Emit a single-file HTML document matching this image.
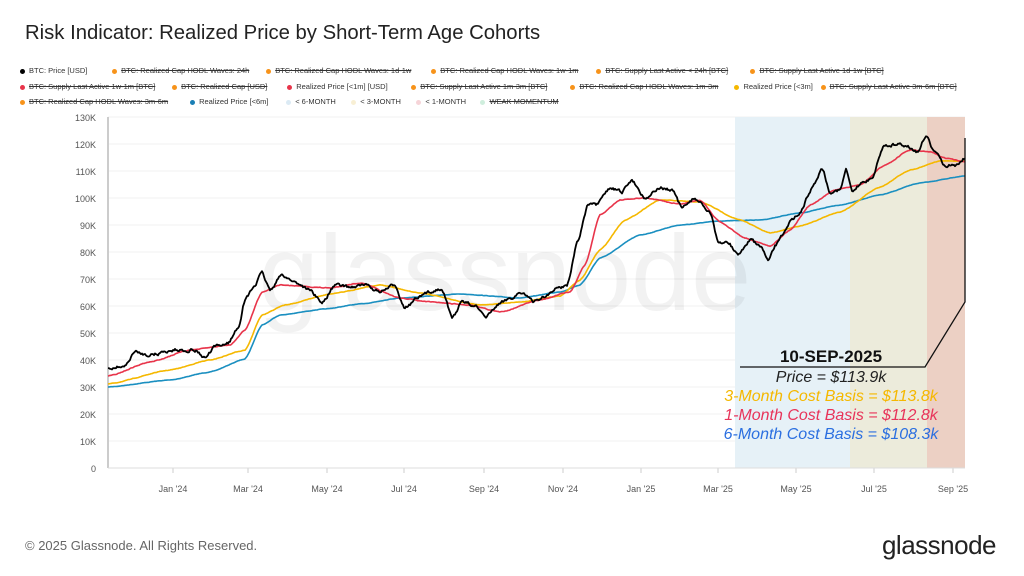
<!DOCTYPE html>
<html><head><meta charset="utf-8"><style>
html,body{margin:0;padding:0;background:#fff;}
body{width:1024px;height:576px;overflow:hidden;position:relative;font-family:"Liberation Sans",sans-serif;}
.t{position:absolute;left:25px;top:22px;font-size:20.3px;color:#222;}
.lg{position:absolute;font-size:7.5px;color:#333;white-space:nowrap;}
.lg span{display:inline-block;}
.d{display:inline-block;width:5px;height:5px;border-radius:50%;margin-right:4px;vertical-align:middle;}
.s{text-decoration:line-through;}
.f{position:absolute;left:25px;top:538px;font-size:13px;color:#666;}
.gn{position:absolute;right:28px;top:530px;font-size:26px;color:#222;letter-spacing:-0.5px;}
</style></head><body>
<div class="t">Risk Indicator: Realized Price by Short-Term Age Cohorts</div>
<div class="lg" style="left:20px;top:66px">
<span style="width:90px"><i class="d" style="background:#000"></i>BTC: Price [USD]</span>
<span style="width:152px" class="s"><i class="d" style="background:#f7931a"></i>BTC: Realized Cap HODL Waves: 24h</span>
<span style="width:163px" class="s"><i class="d" style="background:#f7931a"></i>BTC: Realized Cap HODL Waves: 1d-1w</span>
<span style="width:163px" class="s"><i class="d" style="background:#f7931a"></i>BTC: Realized Cap HODL Waves: 1w-1m</span>
<span style="width:152px" class="s"><i class="d" style="background:#f7931a"></i>BTC: Supply Last Active &lt; 24h [BTC]</span>
<span class="s"><i class="d" style="background:#f7931a"></i>BTC: Supply Last Active 1d-1w [BTC]</span>
</div>
<div class="lg" style="left:20px;top:82px">
<span style="width:150px" class="s"><i class="d" style="background:#e8344a"></i>BTC: Supply Last Active 1w-1m [BTC]</span>
<span style="width:113px" class="s"><i class="d" style="background:#f7931a"></i>BTC: Realized Cap [USD]</span>
<span style="width:122px"><i class="d" style="background:#e8344a"></i>Realized Price [&lt;1m] [USD]</span>
<span style="width:157px" class="s"><i class="d" style="background:#f7931a"></i>BTC: Supply Last Active 1m-3m [BTC]</span>
<span style="width:162px" class="s"><i class="d" style="background:#f7931a"></i>BTC: Realized Cap HODL Waves: 1m-3m</span>
<span style="width:84px"><i class="d" style="background:#f5b800"></i>Realized Price [&lt;3m]</span>
<span class="s"><i class="d" style="background:#f7931a"></i>BTC: Supply Last Active 3m-6m [BTC]</span>
</div>
<div class="lg" style="left:20px;top:97px">
<span style="width:168px" class="s"><i class="d" style="background:#f7931a"></i>BTC: Realized Cap HODL Waves: 3m-6m</span>
<span style="width:94px"><i class="d" style="background:#1a7fb5"></i>Realized Price [&lt;6m]</span>
<span style="width:63px"><i class="d" style="background:#dbeaf4"></i>&lt; 6-MONTH</span>
<span style="width:63px"><i class="d" style="background:#f8efd4"></i>&lt; 3-MONTH</span>
<span style="width:62px"><i class="d" style="background:#f6d4d8"></i>&lt; 1-MONTH</span>
<span class="s"><i class="d" style="background:#cfeedd"></i>WEAK MOMENTUM</span>
</div>
<svg id="c" width="1024" height="576" style="position:absolute;left:0;top:0" font-family="Liberation Sans, sans-serif">
<g id="grid"></g>
<rect x="735" y="117" width="115" height="351" fill="#e6f1f7"/>
<rect x="850" y="117" width="77" height="351" fill="#ecebdb"/>
<rect x="927" y="117" width="38" height="351" fill="#ecd0c4"/>
<text x="505" y="310" font-size="108" fill="#000" fill-opacity="0.05" text-anchor="middle">glassnode</text>
<line x1="108" y1="117" x2="108" y2="468" stroke="#ccc" stroke-width="2"/>
<line x1="108" y1="468" x2="965" y2="468" stroke="#ddd"/>
<g id="lines"></g>
<polyline points="965,138 965,302 925,367 740,367" fill="none" stroke="#111" stroke-width="1.3"/>
<text x="831" y="362" font-size="17" font-weight="bold" text-anchor="middle" fill="#111">10-SEP-2025</text>
<text x="831" y="382" font-size="16" font-style="italic" text-anchor="middle" fill="#222">Price = $113.9k</text>
<text x="831" y="401" font-size="16" font-style="italic" text-anchor="middle" fill="#f5b800">3-Month Cost Basis = $113.8k</text>
<text x="831" y="420" font-size="16" font-style="italic" text-anchor="middle" fill="#e8345a">1-Month Cost Basis = $112.8k</text>
<text x="831" y="439" font-size="16" font-style="italic" text-anchor="middle" fill="#2b6fe0">6-Month Cost Basis =  $108.3k</text>
</svg>
<div class="f">© 2025 Glassnode. All Rights Reserved.</div>
<div class="gn">glassnode</div>
<script>
var NS="http://www.w3.org/2000/svg",g=document.getElementById("grid"),L=document.getElementById("lines");
function el(p,t,a){var e=document.createElementNS(NS,t);for(var k in a)e.setAttribute(k,a[k]);p.appendChild(e);return e;}
for(var i=0;i<=13;i++){var y=468-i*27;if(i>0)el(g,"line",{x1:108,x2:965,y1:y,y2:y,stroke:"#f0f0f0"});
var t=el(g,"text",{x:96,y:y+4,"font-size":9,fill:"#555","text-anchor":"end"});t.textContent=i==0?"0":(i*10)+"K";}
var mx=[[173,"Jan '24"],[248,"Mar '24"],[327,"May '24"],[404,"Jul '24"],[484,"Sep '24"],[563,"Nov '24"],[641,"Jan '25"],[718,"Mar '25"],[796,"May '25"],[874,"Jul '25"],[953,"Sep '25"]];
mx.forEach(function(m){el(g,"line",{x1:m[0],x2:m[0],y1:468,y2:473,stroke:"#ccc"});var t=el(g,"text",{x:m[0],y:492,"font-size":9,fill:"#555","text-anchor":"middle"});t.textContent=m[1];});
function interp(P,x){for(var i=0;i<P.length-1;i++){if(x<=P[i+1][0]){var a=P[i],b=P[i+1];var u=(x-a[0])/(b[0]-a[0]);u=u*u*(3-2*u)*0.5+u*0.5;return a[1]+(b[1]-a[1])*u;}}return P[P.length-1][1];}
var s=7;function r(){s=(s*16807)%2147483647;return s/2147483647-0.5;}
function draw(P,col,w,noise){var pts=[],n=0;for(var x=108;x<=965;x+=1){n=n*0.6+r()*noise;pts.push(x+","+(interp(P,x)+n).toFixed(1));}
el(L,"polyline",{points:pts.join(" "),fill:"none",stroke:col,"stroke-width":w,"stroke-linejoin":"round"});}
draw([[108,387],[170,380],[210,372],[245,359],[262,325],[280,315],[325,309],[360,304],[400,298],[460,294],[520,298],[560,292],[580,285],[600,258],[640,235],[680,225],[720,221],[760,220],[800,213],[840,205],[880,195],[920,183],[965,176]],"#1a8fc0",1.6,0.3);
draw([[108,384],[170,370],[210,360],[245,350],[262,315],[285,305],[330,294],[380,285],[420,293],[480,305],[520,302],[560,296],[580,280],[600,250],[625,220],[660,200],[700,202],[740,220],[770,233],[800,226],[840,212],[880,187],[910,170],[940,161],[965,161]],"#f5b800",1.6,0.4);
draw([[108,376],[150,362],[190,350],[230,345],[245,330],[262,292],[280,285],[330,288],[360,283],[400,298],[430,302],[470,305],[500,312],[540,300],[570,292],[585,265],[600,215],[620,200],[645,198],[680,204],[700,200],[720,222],[745,238],[770,246],[790,230],[810,205],[835,190],[860,185],[885,165],[910,150],[930,152],[945,158],[965,162]],"#e8344a",1.6,0.6);
draw([[108,368],[125,366],[135,352],[150,355],[175,350],[195,350],[205,358],[215,347],[228,343],[238,328],[245,300],[255,285],[262,273],[270,290],[282,275],[295,282],[310,290],[322,303],[335,285],[350,287],[365,285],[380,292],[395,285],[405,308],[418,298],[430,292],[442,288],[452,318],[462,302],[475,305],[485,318],[498,305],[510,298],[522,292],[533,302],[545,296],[558,288],[567,285],[578,240],[588,205],[597,205],[610,188],[622,192],[632,180],[645,198],[660,188],[672,190],[682,208],[695,198],[710,212],[718,243],[728,242],[738,255],[750,240],[762,248],[768,262],[776,245],[790,222],[800,212],[812,188],[822,168],[830,192],[840,190],[846,170],[852,192],[862,183],[872,178],[884,145],[895,145],[905,145],[918,152],[926,135],[933,150],[945,165],[955,165],[965,158]],"#000",1.8,2.6);
</script>
</body></html>
